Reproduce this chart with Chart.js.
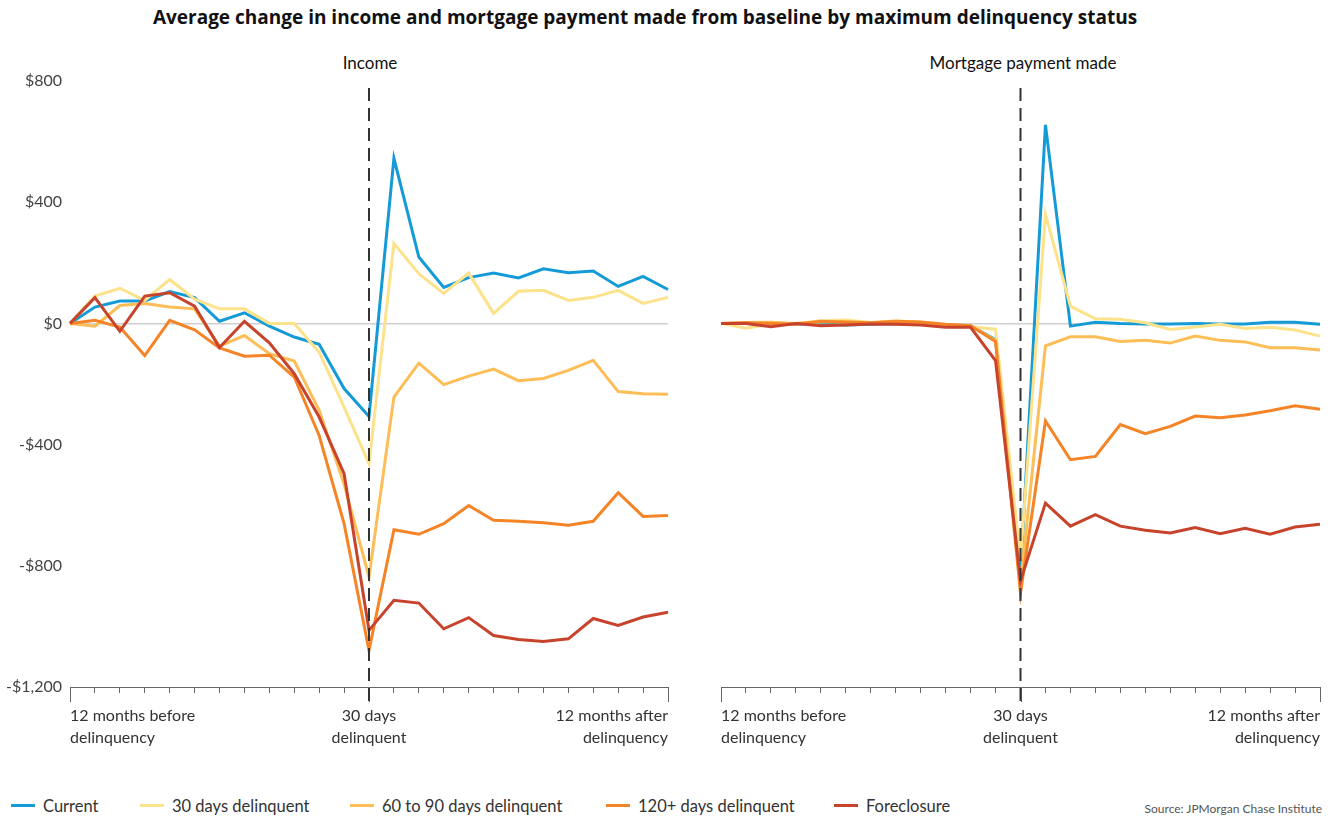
<!DOCTYPE html>
<html>
<head>
<meta charset="utf-8">
<script src="https://cdn.jsdelivr.net/npm/chart.js@4/dist/chart.umd.min.js"></script>
<style>
  body { margin: 0; background: #fff; font-family: Lato, "Open Sans", sans-serif; color: #222; }
  #page { position: relative; width: 1340px; height: 820px; overflow: hidden; }
  .box { position: absolute; top: 0; height: 760px; }
  #title { position: absolute; left: 0; width: 1290px; top: 4px; text-align: center; font-family: "Open Sans", sans-serif; font-weight: bold; font-size: 19px; line-height: 26px; color: #111; }
  .panel-title { position: absolute; top: 52px; width: 240px; text-align: center; font-size: 17px; line-height: 22px; color: #111; }
  #legend { position: absolute; left: 0; top: 796px; width: 1000px; height: 22px; font-size: 16.5px; line-height: 20px; color: #333; }
  #legend div { position: absolute; top: 0; white-space: nowrap; }
  #legend span.sw { display: inline-block; width: 24px; height: 3px; vertical-align: middle; margin-right: 8px; position: relative; top: -2px; }
  #source { position: absolute; right: 18px; top: 801px; font-size: 12px; color: #555; }
</style>
</head>
<body>
<div id="page">
  <div id="title">Average change in income and mortgage payment made from baseline by maximum delinquency status</div>
  <div class="panel-title" style="left:250px">Income</div>
  <div class="panel-title" style="left:903px">Mortgage payment made</div>
  <div class="box" style="left:0;width:680px"><canvas id="incomeChart"></canvas></div>
  <div class="box" style="left:680px;width:660px"><canvas id="mortgageChart"></canvas></div>
  <div id="legend"></div>
  <div id="source">Source: JPMorgan Chase Institute</div>
</div>
<script>
// months relative to first 30-day delinquency
const months = [-12, -11, -10, -9, -8, -7, -6, -5, -4, -3, -2, -1, 0, 1, 2, 3, 4, 5, 6, 7, 8, 9, 10, 11, 12];
const xTickLabels = {
    '-12': ['12 months before', 'delinquency'],
    '0': ['30 days', 'delinquent'],
    '12': ['12 months after', 'delinquency']
};
const seriesNames = ['Current', '30 days delinquent', '60 to 90 days delinquent', '120+ days delinquent', 'Foreclosure'];
const seriesColors = ['#149bd7', '#fde28c', '#fdbd57', '#f58427', '#c8432c'];

// Income
const incCurrent = [0, 54, 74, 74, 105, 85, 7, 35, -9, -45, -69, -215, -307, 545, 219, 119, 151, 166, 150, 180, 167, 173, 122, 155, 112];
const inc30 = [0, 90, 116, 76, 145, 80, 48, 48, 0, 0, -95, -276, -463, 264, 164, 99, 166, 33, 106, 109, 76, 86, 109, 66, 86];
const inc6090 = [0, -9, 59, 66, 54, 48, -75, -40, -100, -124, -287, -530, -837, -243, -131, -202, -174, -151, -189, -182, -155, -122, -225, -232, -234];
const inc120 = [0, 10, -12, -106, 10, -21, -81, -108, -105, -177, -370, -661, -1079, -681, -696, -661, -601, -650, -653, -658, -666, -653, -559, -637, -634];
const incFore = [0, 85, -26, 90, 101, 57, -80, 7, -64, -166, -309, -496, -1013, -914, -923, -1008, -971, -1030, -1043, -1050, -1041, -974, -997, -969, -953];

// Mortgage payment made
const mtgCurrent = [0, 0, 2, -2, -3, -5, -3, 0, -2, -5, -8, -54, -830, 655, -9, 4, 0, -2, -2, 0, -2, -2, 4, 4, -3];
const mtg30 = [0, -16, -2, 0, 9, 11, 3, 9, 3, -8, -11, -19, -780, 360, 57, 15, 14, 2, -20, -12, -3, -17, -13, -22, -42];
const mtg6090 = [0, 3, 4, 0, 5, 6, 2, 5, 4, -5, -8, -56, -860, -74, -44, -44, -60, -56, -65, -42, -56, -61, -80, -80, -88];
const mtg120 = [0, 2, 0, -3, 7, 4, 2, 7, 5, -3, -8, -60, -890, -322, -450, -439, -334, -364, -340, -306, -311, -302, -288, -272, -283];
const mtgFore = [0, 0, -11, 0, -8, -5, -2, -3, -5, -13, -13, -123, -850, -593, -669, -631, -669, -683, -692, -674, -694, -676, -696, -672, -663];

const yTickLabels = { '800': '$800', '400': '$400', '0': '$0', '-400': '-$400', '-800': '-$800', '-1200': '-$1,200' };

const font = 'Lato, "Open Sans", sans-serif';

function makeDatasets(series) {
    return series.map(function(values, i) {
        return {
            label: seriesNames[i],
            data: values,
            borderColor: seriesColors[i],
            backgroundColor: seriesColors[i],
            borderWidth: 3,
            pointRadius: 0,
            tension: 0,
            order: series.length - 1 - i  // foreclosure drawn on top
        };
    });
}

// dashed line at delinquency month + longer ticks at ends/centre
const markers = {
    id: 'markers',
    afterDatasetsDraw(chart) {
        const ctx = chart.ctx;
        const x = chart.scales.x;
        const area = chart.chartArea;
        ctx.save();
        ctx.strokeStyle = '#666';
        ctx.lineWidth = 1;
        [0, 12, 24].forEach(function(i) {
            const px = Math.round(x.getPixelForValue(i)) + 0.5;
            ctx.beginPath();
            ctx.moveTo(px, area.bottom);
            ctx.lineTo(px, area.bottom + 15);
            ctx.stroke();
        });
        const cx = x.getPixelForValue(12);
        ctx.strokeStyle = '#333';
        ctx.lineWidth = 2;
        ctx.setLineDash([13, 7]);
        ctx.beginPath();
        ctx.moveTo(cx, area.top + 7);
        ctx.lineTo(cx, area.bottom + 15);
        ctx.stroke();
        ctx.restore();
    }
};

function makeChart(id, series, yWidth, padRight, showY) {
    return new Chart(document.getElementById(id), {
        type: 'line',
        data: { labels: months, datasets: makeDatasets(series) },
        options: {
            responsive: true,
            maintainAspectRatio: false,
            animation: false,
            layout: { padding: { top: 81, right: padRight, bottom: 13, left: 0 } },
            plugins: { legend: { display: false }, tooltip: { enabled: false } },
            scales: {
                x: {
                    grid: { drawOnChartArea: false, drawTicks: true, tickLength: 6, color: '#666', lineWidth: 1 },
                    border: { display: true, color: '#666', width: 1 },
                    afterFit: function(scale) { scale.height = 60; },
                    ticks: {
                        autoSkip: false,
                        maxRotation: 0,
                        align: 'inner',
                        padding: 12,
                        color: '#333',
                        font: { family: font, size: 16, lineHeight: 1.35 },
                        callback: function(value, index) {
                            return xTickLabels[String(months[index])] || '';
                        }
                    }
                },
                y: {
                    min: -1200,
                    max: 800,
                    afterFit: function(scale) { scale.width = yWidth; },
                    grid: {
                        drawTicks: false,
                        lineWidth: 1.5,
                        color: function(c) { return c.tick && c.tick.value === 0 ? '#cfcfcf' : 'rgba(0,0,0,0)'; }
                    },
                    border: { display: false },
                    ticks: {
                        stepSize: 400,
                        padding: 8,
                        color: '#444',
                        font: { family: font, size: 16 },
                        callback: function(value) { return showY ? yTickLabels[String(value)] : ''; }
                    }
                }
            }
        },
        plugins: [markers]
    });
}

makeChart('incomeChart', [incCurrent, inc30, inc6090, inc120, incFore], 70, 11, true);
makeChart('mortgageChart', [mtgCurrent, mtg30, mtg6090, mtg120, mtgFore], 41, 20, false);

// legend
const legendLeft = [11, 140, 350, 606, 834];
const legend = document.getElementById('legend');
seriesNames.forEach(function(name, i) {
    const item = document.createElement('div');
    item.style.left = legendLeft[i] + 'px';
    item.innerHTML = '<span class="sw" style="background:' + seriesColors[i] + '"></span>' + name;
    legend.appendChild(item);
});
</script>
</body>
</html>
